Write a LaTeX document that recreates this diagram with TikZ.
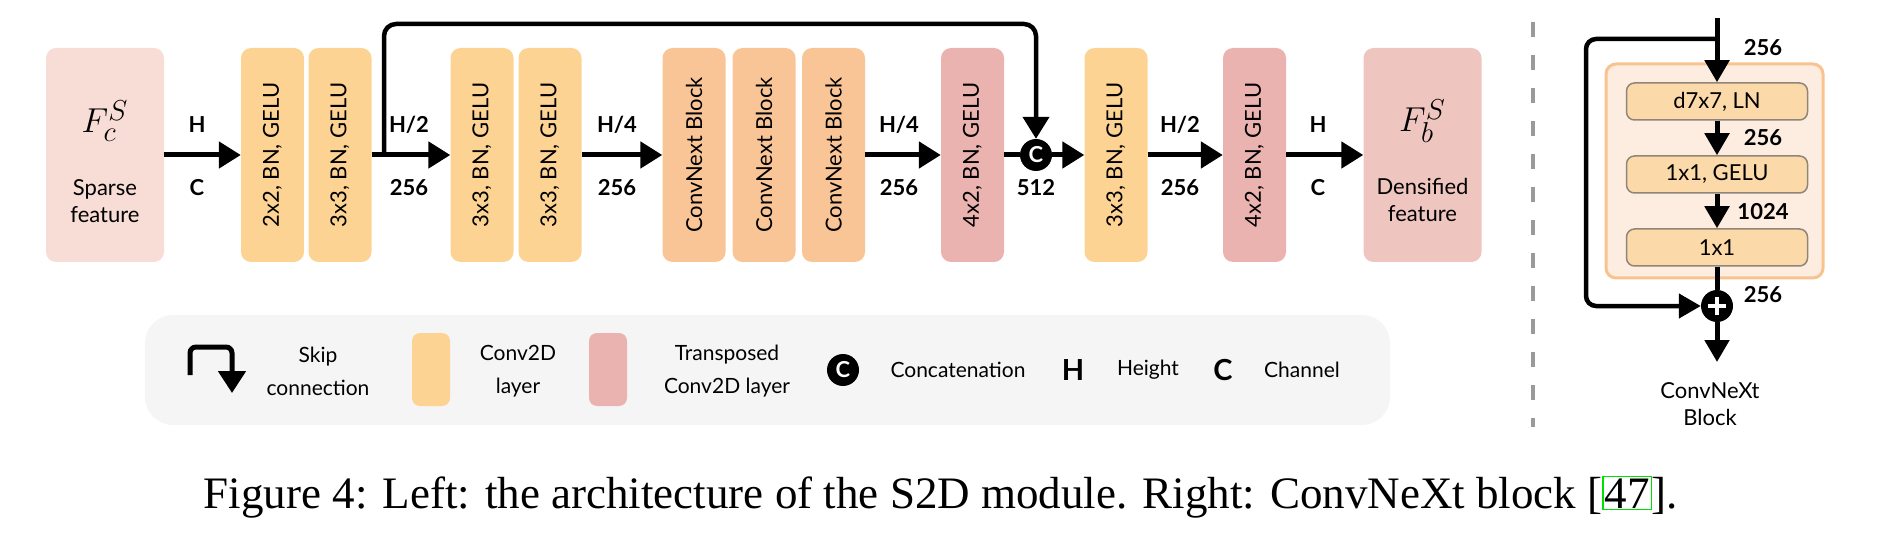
\documentclass[tikz,border=0pt]{standalone}
\usepackage{fontspec}
\setmainfont{Lato}
\newfontfamily\capfont{Liberation Serif}
\usetikzlibrary{arrows.meta}
\definecolor{sparsec}{HTML}{F8DDD6}
\definecolor{convc}{HTML}{FDD394}
\definecolor{cnxc}{HTML}{F9C596}
\definecolor{transc}{HTML}{EBB3B0}
\definecolor{densec}{HTML}{EEC5BF}
\definecolor{legc}{HTML}{F5F5F5}
\definecolor{outerfill}{HTML}{FDECE0}
\definecolor{outerdraw}{HTML}{F9C38F}
\definecolor{innerfill}{HTML}{FCD9A9}
\definecolor{innerdraw}{HTML}{8F8579}
\definecolor{dashc}{HTML}{9A9A9A}
\definecolor{linkgreen}{HTML}{00E000}
\tikzset{
  blk/.style={rounded corners=10pt, minimum width=63pt, minimum height=214pt, inner sep=0pt, font=\fontsize{22}{26}\selectfont},
  bigblk/.style={blk, minimum width=118pt, align=center},
  arr/.style={line width=5pt, -{Triangle[length=22pt,width=26pt]}},
  plainline/.style={line width=5pt},
  skipline/.style={line width=4.5pt, rounded corners=12pt},
  lbl/.style={font=\fontsize{22}{26}\selectfont\bfseries, inner sep=0pt},
  dot/.style={circle, fill=black, minimum size=32pt, inner sep=0pt},
  inner/.style={rounded corners=8pt, draw=innerdraw, line width=1.5pt, fill=innerfill, minimum width=181pt, minimum height=37pt, inner sep=0pt, font=\fontsize{22}{26}\selectfont},
  legtxt/.style={font=\fontsize{21}{33}\selectfont, align=center, inner sep=0pt},
  swatch/.style={rounded corners=8pt, minimum width=38pt, minimum height=73pt, inner sep=0pt},
  mathlbl/.style={inner sep=0pt, font=\fontsize{19}{22}\selectfont},
}
\begin{document}
\begin{tikzpicture}[x=1pt,y=-1pt]
\useasboundingbox (0,0) rectangle (1891,556);
% ---------- main row ----------
\node[bigblk, fill=sparsec] (sp) at (105,155) {};
\node[mathlbl] (spm) at (105,121) {\scalebox{2}{$F_c^S$}};
\node[legtxt, font=\fontsize{22}{27}\selectfont] (spt) at (105,201) {Sparse\\feature};
\node[blk, fill=convc] (b1) at (272.5,155) {\rotatebox{90}{2x2, BN, GELU}};
\node[blk, fill=convc] (b2) at (340,155) {\rotatebox{90}{3x3, BN, GELU}};
\node[blk, fill=convc] (b3) at (482,155) {\rotatebox{90}{3x3, BN, GELU}};
\node[blk, fill=convc] (b4) at (550,155) {\rotatebox{90}{3x3, BN, GELU}};
\node[blk, fill=cnxc] (c1) at (694,155) {\rotatebox{90}{ConvNext Block}};
\node[blk, fill=cnxc] (c2) at (764,155) {\rotatebox{90}{ConvNext Block}};
\node[blk, fill=cnxc] (c3) at (833.5,155) {\rotatebox{90}{ConvNext Block}};
\node[blk, fill=transc] (r1) at (972.5,155) {\rotatebox{90}{4x2, BN, GELU}};
\node[dot] (cat) at (1036,155) {\color{white}\fontsize{22}{26}\selectfont\bfseries C};
\node[blk, fill=convc] (y1) at (1116,155) {\rotatebox{90}{3x3, BN, GELU}};
\node[blk, fill=transc] (r2) at (1254.5,155) {\rotatebox{90}{4x2, BN, GELU}};
\node[bigblk, fill=densec] (db) at (1422.5,155) {};
\node[mathlbl] (dbm) at (1422.5,121) {\scalebox{2}{$F_b^S$}};
\node[legtxt, font=\fontsize{22}{27}\selectfont] (dbt) at (1422.5,200) {Densified\\feature};
\draw[arr] (sp.east) -- (b1.west);
\draw[arr] (b2.east) -- (b3.west);
\draw[arr] (b4.east) -- (c1.west);
\draw[arr] (c3.east) -- (r1.west);
\draw[plainline] (r1.east) -- (cat.west);
\draw[arr] (cat.east) -- (y1.west);
\draw[arr] (y1.east) -- (r2.west);
\draw[arr] (r2.east) -- (db.west);
\coordinate (s0) at (384,155);
\draw[skipline, -{Triangle[length=22pt,width=26pt]}] (s0) -- (384,24) -- (1036,24) -- (cat.north);
% labels
\node[lbl] (l1a) at (197,125) {H};
\node[lbl] (l1b) at (197,188) {C};
\node[lbl] (l2a) at (409,125) {H/2};
\node[lbl] (l2b) at (409,188) {256};
\node[lbl] (l3a) at (617,125) {H/4};
\node[lbl] (l3b) at (617,188) {256};
\node[lbl] (l4a) at (899,125) {H/4};
\node[lbl] (l4b) at (899,188) {256};
\node[lbl] (l5b) at (1036,188) {512};
\node[lbl] (l6a) at (1180,125) {H/2};
\node[lbl] (l6b) at (1180,188) {256};
\node[lbl] (l7a) at (1318,125) {H};
\node[lbl] (l7b) at (1318,188) {C};
% ---------- legend ----------
\fill[legc, rounded corners=28pt] (145,315) rectangle (1390,425);
\coordinate (k0) at (190,375);
\coordinate (k1) at (232,393);
\draw[line width=5pt, rounded corners=6pt, -{Triangle[length=22pt,width=27pt]}] (k0) -- (190,347) -- (232,347) -- (k1);
\node[legtxt] (t1) at (318,371) {Skip\\connection};
\node[swatch, fill=convc] (sw1) at (431,369.5) {};
\node[legtxt] (t2) at (518,371) {Conv2D\\layer};
\node[swatch, fill=transc] (sw2) at (608,369.5) {};
\node[legtxt] (t3) at (727,371) {Transposed\\Conv2D layer};
\node[dot] (lc) at (843,370) {\color{white}\fontsize{22}{26}\selectfont\bfseries C};
\node[legtxt] (t4) at (958,370) {Concatenation};
\node[font=\fontsize{29}{30}\selectfont\bfseries, inner sep=0pt] (lh) at (1073,370) {H};
\node[legtxt] (t5) at (1148,370) {Height};
\node[font=\fontsize{29}{30}\selectfont\bfseries, inner sep=0pt] (lcc) at (1223,370) {C};
\node[legtxt] (t6) at (1302,370) {Channel};
% ---------- divider ----------
\draw[dashc, line width=4pt, dash pattern=on 15pt off 18pt] (1533,22) -- (1533,427);
% ---------- ConvNeXt block ----------
\node[rounded corners=10pt, draw=outerdraw, line width=3pt, fill=outerfill, minimum width=217pt, minimum height=214pt] (ob) at (1714.5,171) {};
\node[inner] (i1) at (1717,101.5) {d7x7, LN};
\node[inner] (i2) at (1717,174.5) {1x1, GELU};
\node[inner] (i3) at (1717,247.5) {1x1};
\node[dot] (pl) at (1717,306) {};
\draw[white, line width=3.5pt] ([xshift=-9pt]pl.center) -- ([xshift=9pt]pl.center);
\draw[white, line width=3.5pt] ([yshift=-9pt]pl.center) -- ([yshift=9pt]pl.center);
\coordinate (in) at (1717,18);
\coordinate (sk) at (1717,39);
\coordinate (out) at (1717,362);
\draw[line width=5pt, -{Triangle[length=22pt,width=24pt]}] (in) -- (i1.north);
\draw[line width=5pt, -{Triangle[length=22pt,width=24pt]}] (i1.south) -- (i2.north);
\draw[line width=5pt, -{Triangle[length=22pt,width=24pt]}] (i2.south) -- (i3.north);
\draw[line width=5pt] (i3.south) -- (pl.north);
\draw[line width=5pt, -{Triangle[length=22pt,width=24pt]}] (pl.south) -- (out);
\draw[skipline, rounded corners=10pt, -{Triangle[length=22pt,width=24pt]}] (sk) -- (1586,39) -- (1586,306) -- (pl.west);
\node[lbl] (r256a) at (1763,48) {256};
\node[lbl] (r256b) at (1763,138) {256};
\node[lbl] (r1024) at (1763,212) {1024};
\node[lbl] (r256c) at (1763,295) {256};
\node[legtxt, font=\fontsize{22}{27}\selectfont] (cbt) at (1710,404) {ConvNeXt\\Block};
% ---------- caption ----------
\node[inner sep=0pt] (cap) at (941,497) {\capfont\fontsize{45}{48}\selectfont Figure 4: Left: the architecture of the S2D module. Right: ConvNeXt block [{\color{linkgreen}\fboxsep=1pt\fboxrule=1.2pt\fbox{\color{black}47}}].};
\end{tikzpicture}
\end{document}
